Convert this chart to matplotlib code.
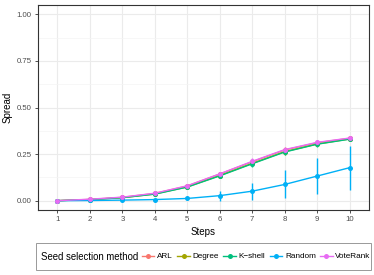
import matplotlib.pyplot as plt
from matplotlib.lines import Line2D
from matplotlib.patches import Rectangle

plt.rcParams["font.family"] = ["Liberation Sans", "DejaVu Sans"]

steps = [1, 2, 3, 4, 5, 6, 7, 8, 9, 10]
methods = ["ARL", "Degree", "K\u2212shell", "Random", "VoteRank"]
colors = ["#F8766D", "#A3A500", "#00BF7D", "#00B0F6", "#E76BF3"]

arl = [0.000, 0.007, 0.018, 0.039, 0.079, 0.143, 0.209, 0.272, 0.311, 0.335]
degree = [0.000, 0.006, 0.016, 0.036, 0.074, 0.135, 0.200, 0.263, 0.304, 0.331]
kshell = [0.000, 0.006, 0.016, 0.035, 0.073, 0.133, 0.198, 0.261, 0.303, 0.330]
random_ = [0.000, 0.001, 0.003, 0.006, 0.012, 0.027, 0.051, 0.087, 0.132, 0.177]
voterank = [0.000, 0.008, 0.019, 0.040, 0.080, 0.144, 0.211, 0.274, 0.313, 0.336]

arl_err = [0.0, 0.002, 0.004, 0.005, 0.008, 0.012, 0.016, 0.016, 0.013, 0.010]
degree_err = [0.0, 0.002, 0.004, 0.005, 0.008, 0.012, 0.016, 0.016, 0.013, 0.010]
kshell_err = [0.0, 0.002, 0.004, 0.005, 0.008, 0.012, 0.016, 0.016, 0.013, 0.010]
random_err = [0.0, 0.002, 0.003, 0.004, 0.006, 0.027, 0.046, 0.075, 0.098, 0.118]
voterank_err = [0.0, 0.002, 0.004, 0.005, 0.008, 0.012, 0.016, 0.016, 0.013, 0.010]

series = [arl, degree, kshell, random_, voterank]
errors = [arl_err, degree_err, kshell_err, random_err, voterank_err]

W, H = 374, 275
fig = plt.figure(figsize=(W / 100, H / 100), dpi=100)
ax = fig.add_axes([38 / W, 1 - 210 / H, (369 - 38) / W, (210 - 5) / H])

for s, e, c in zip(series, errors, colors):
    ax.errorbar(steps, s, yerr=e, fmt="none", ecolor=c, elinewidth=1.0, capsize=0, zorder=2)
for s, c in zip(series, colors):
    ax.plot(steps, s, color=c, linewidth=1.0, zorder=3)
for s, c in zip(series, colors):
    ax.plot(steps, s, "o", color=c, markersize=3.6, markeredgewidth=0, zorder=4)

ax.set_xlim(0.4, 10.6)
ax.set_ylim(-0.05, 1.05)
ax.set_xticks(steps)
ax.set_yticks([0.0, 0.25, 0.5, 0.75, 1.0])
ax.set_yticklabels(["0.00", "0.25", "0.50", "0.75", "1.00"])
ax.set_yticks([0.125, 0.375, 0.625, 0.875], minor=True)
ax.grid(which="major", color="#EBEBEB", linewidth=0.8)
ax.grid(which="minor", axis="y", color="#F4F4F4", linewidth=0.5)
ax.set_axisbelow(True)
for sp in ax.spines.values():
    sp.set_color("#333333")
    sp.set_linewidth(0.8)
ax.tick_params(axis="both", which="major", labelsize=5.6, labelcolor="#4D4D4D",
               color="#333333", length=2.5, width=0.6, pad=2)
ax.tick_params(axis="y", which="minor", length=0)
ax.set_xlabel("Steps", fontsize=7.0, labelpad=3)
ax.set_ylabel("Spread", fontsize=7.0, labelpad=3)

# legend box at the bottom: frame, title, entries
fig.add_artist(Rectangle((36 / W, 1 - 270 / H), (371 - 36) / W, 27 / H,
                         transform=fig.transFigure, fill=False,
                         edgecolor="#999999", linewidth=0.7))
fig.text(41 / W, 1 - 256.5 / H, "Seed selection method", fontsize=6.9,
         ha="left", va="center")
handles = [Line2D([0], [0], color=c, linewidth=1.0, marker="o", markersize=3.6,
                  markeredgewidth=0) for c in colors]
fig.legend(handles, methods, loc="center left",
           bbox_to_anchor=(142 / W, 1 - 256.5 / H), ncol=5, fontsize=5.9,
           frameon=False, handlelength=1.5, handletextpad=0.35,
           columnspacing=0.55, borderpad=0, borderaxespad=0)

fig.savefig("out.png", dpi=100)
